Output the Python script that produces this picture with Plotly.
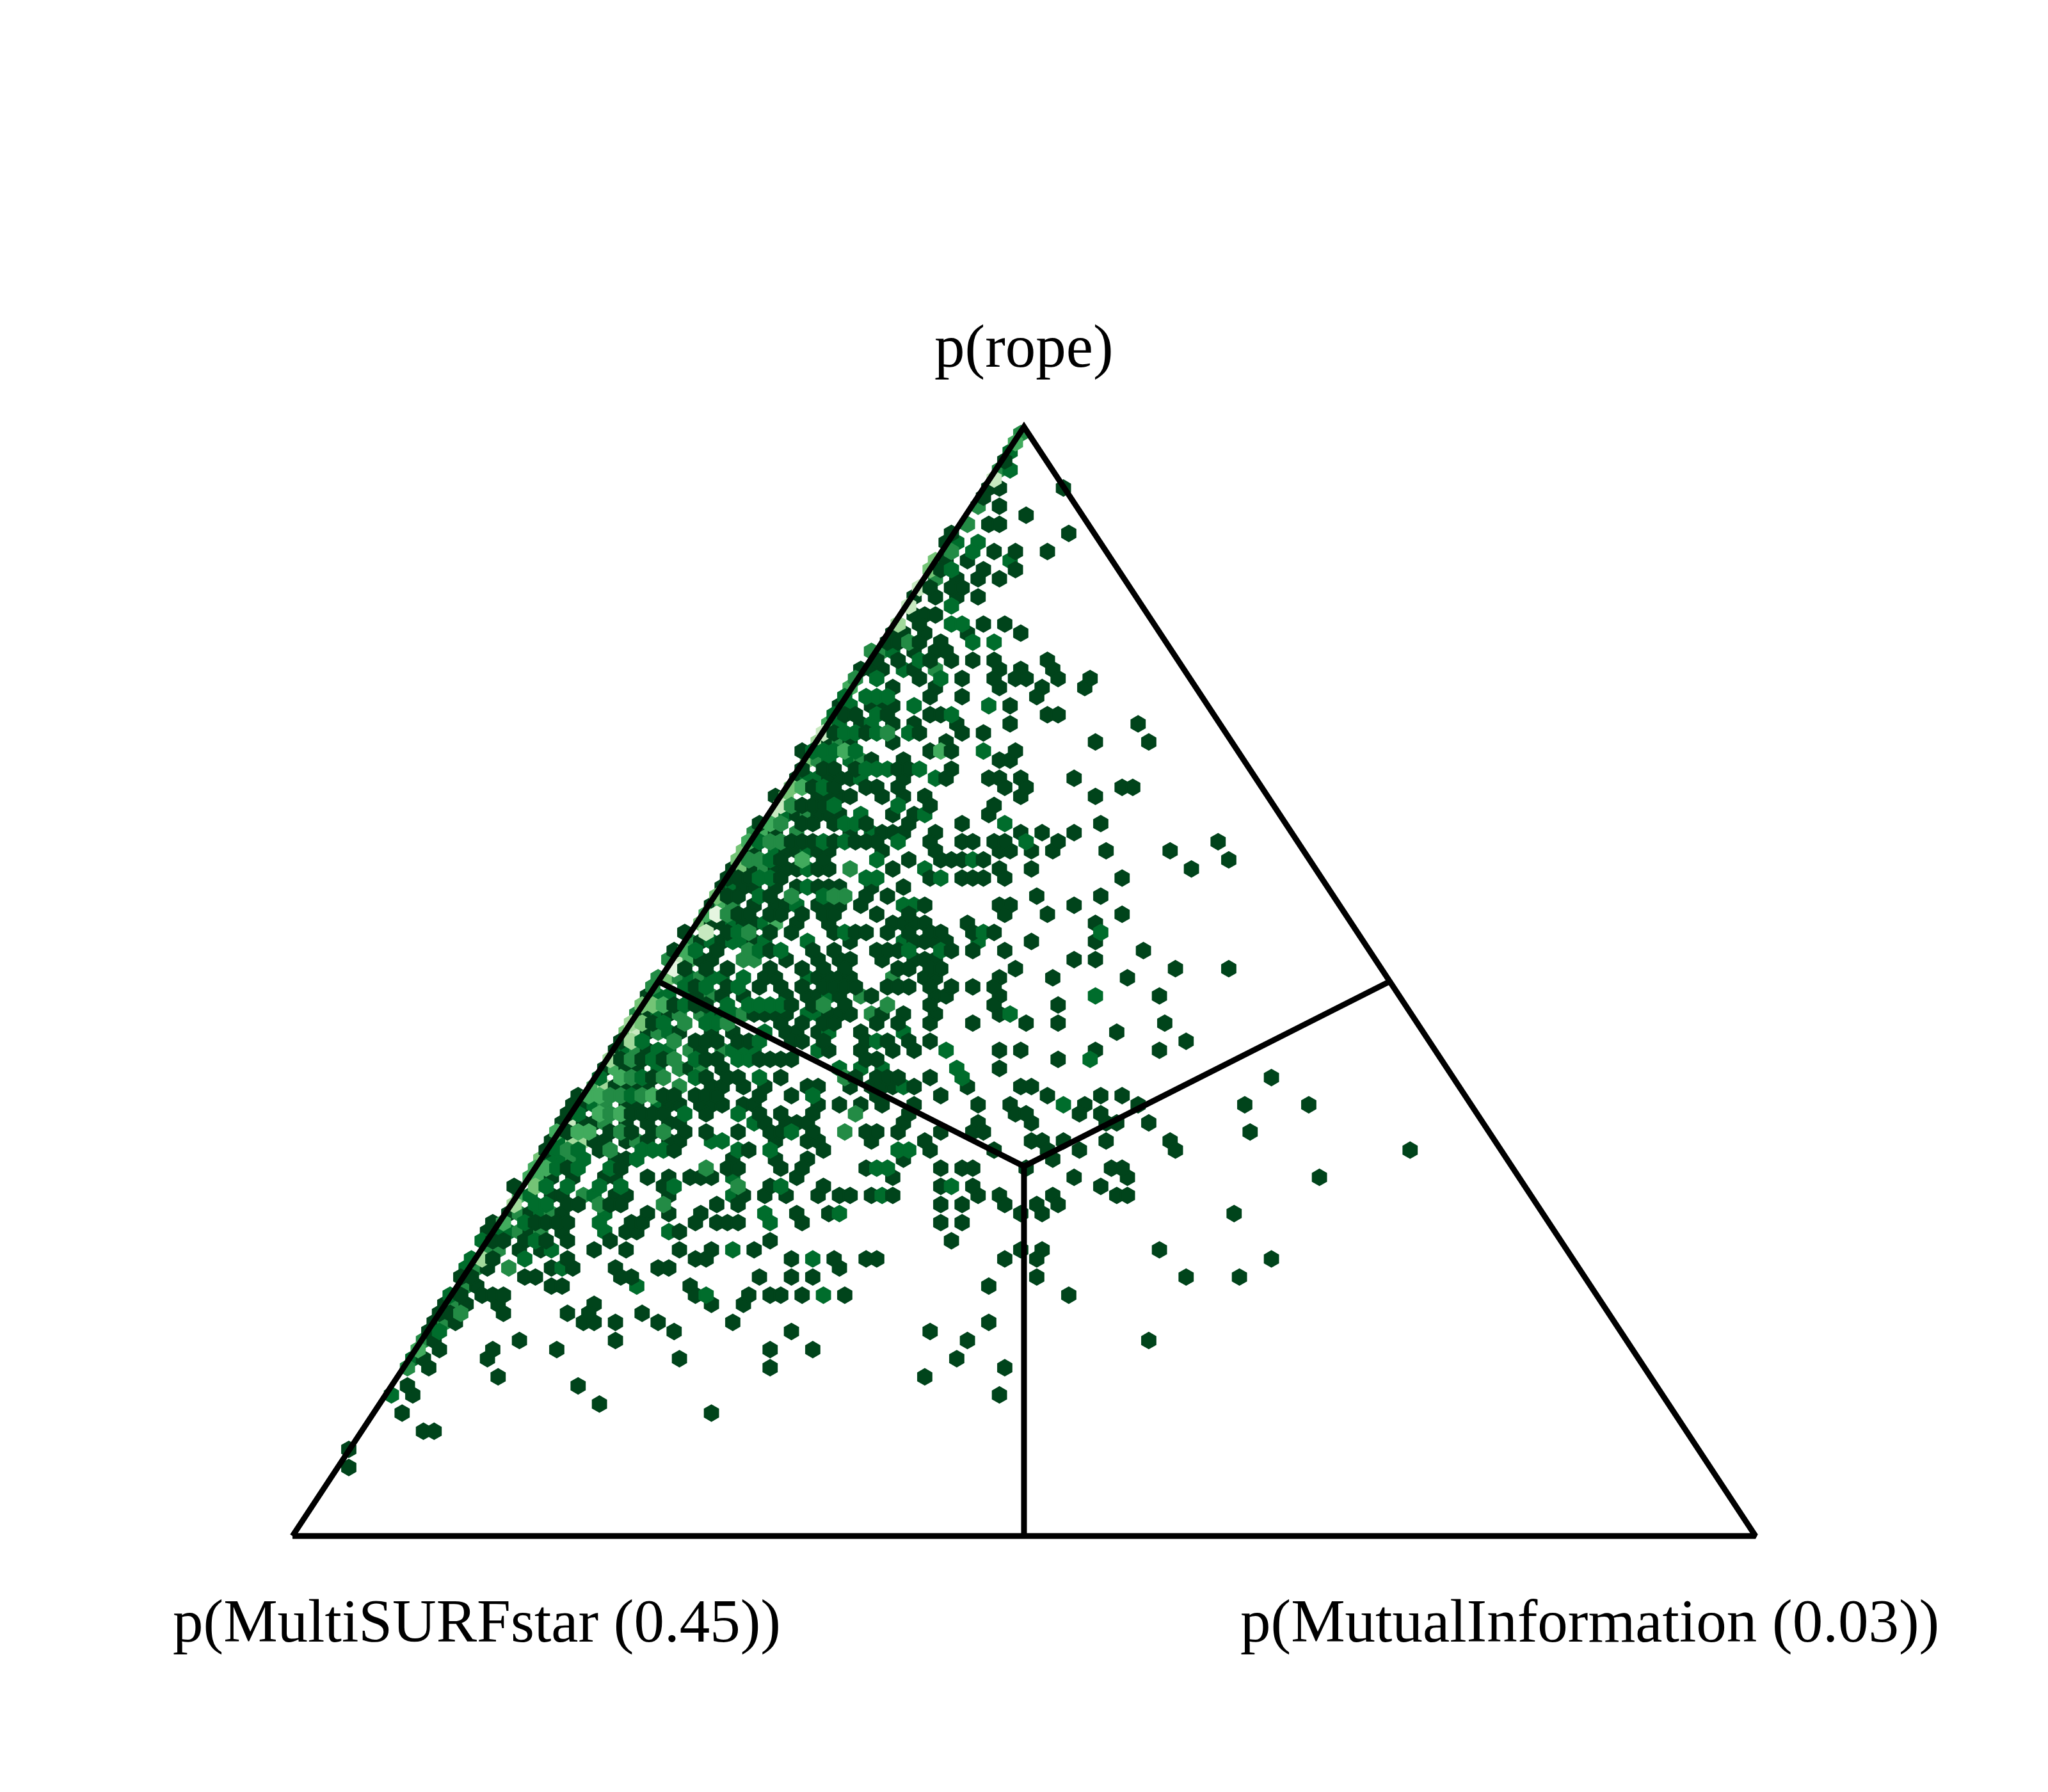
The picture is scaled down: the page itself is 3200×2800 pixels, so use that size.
import plotly.graph_objects as go

# Ternary frame: vertices, side midpoints and centre, in plane coordinates
frame_x = [0, 1, 0.5, 0]
frame_y = [0, 0, 1, 0]
divider_x = [0.25, 0.5, 0.75, None, 0.5, 0.5]
divider_y = [0.5, 1 / 3, 0.5, None, 1 / 3, 0]

corner_labels = ["p(rope)", "p(MultiSURFstar (0.45))", "p(MutualInformation (0.03))"]
label_x = [0.5, 0.1262, 0.8865]
label_y = [1.0, -0.0, -0.0]

# Hexbin lattice: bins with a count of one, keyed by row, listing columns
single_bins = {
    -29: [-4], -26: [-7, -5, 7], -25: [-8], -24: [-5], -23: [0], -22: [-7, -5], -21: [-14, 8],
    -20: [-15], -19: [-6, -2, 4], -18: [-15, -11], -17: [-16, -8, -2], -16: [-13, -9, -5],
    -15: [-18, -14, -12], -14: [-21, -17, -13, -9], -12: [-21, -19, -17], -11: [-20, -8, -4],
    -10: [-25, -23, -19, -11, -1], -9: [-26, -24, -20, -16], -8: [-21, -17, -15],
    -7: [-28, -24, -18, -14, -10, -6, 4], -6: [-31, -29, -27, -21, -5, -1, 5],
    -5: [-20, -12, -6, -2, 0, 6, 12], -4: [-25, -17, -5, 3, 11], -3: [-18, -12, 2],
    -2: [-35, -29, -27, -25, -3], -1: [-34, -32, -26, -18, -16, 4, 6],
    0: [-31, -25, -21, -13, -3, 21], 1: [-36, -30, -20, -12, -8],
    2: [-37, -33, -25, -15, 13, 23], 3: [-42, -18, -14, -2], 4: [-29, -23, -5, -3],
    5: [-42, -38, -36, -32, -24, -22, -14], 6: [-43, -37, -35, -33, -23, -15, -7, -5, -1, 9],
    7: [-40, -36, -30, -28, -24, -4, 0, 18, 20], 8: [-47, -39, -37, -35, -33, -27, -23, -19, -1, 13],
    9: [-42, -40, -38, -18, -6], 10: [-43, -39, -37, -35, -25, -21, -7],
    11: [-50, -42, -40, -36, -30, -22, -12, 14], 12: [-47, -33, -27, -25, -23, -17, -1, 3, 9],
    13: [-44, -42, -40, -36, -32, -30, -28, -18, -12, -10, -6, -4, 6, 36],
    14: [-51, -45, -43, -39, -37, -27, -17, -5, -3, 1, 5, 15, 27],
    15: [-46, -38, -22, -16, -14, -12, -8, 38], 16: [-55, -51, -47, -45, -43, -39, -37, -25, -5, 1, 31],
    17: [-56, -54, -52, -46, -18, -12, -10, -8, -4, 18],
    18: [-57, -53, -51, -47, -43, -39, -37, -35, -29, -23], 19: [-56, -54, -48, -30, -26, 2, 14],
    20: [-59, -51, -47, -45, -39, -37, -35, -31, -19, -5, -3, 9],
    21: [-54, -52, -48, -46, -42, -38, -36, -28, -22, -4, 4, 18],
    22: [-59, -57, -53, -51, -43, -37, -25, -23, -21, -19, -11, 13],
    23: [-64, -56, -48, -44, -36, -32, -30, -26, -22, -18, -16, -10, -6],
    24: [-61, -57, -51, -33, -21, -19, -17, -15, 1, 13],
    25: [-66, -58, -48, -40, -36, -28, -26, -24, -14, -10, -4, 22],
    26: [-61, -59, -45, -39, -35, -33, -27, -21, -19, -17, 9, 13],
    27: [-64, -60, -56, -48, -42, -38, -34, -24, -22, -18, -16, -2, 28, 38],
    28: [-49, -47, -39, -37, -35, -33, -19, -17, -5, 5, 19],
    29: [-62, -56, -50, -46, -42, -38, -36, -34, -32, -26, -24, -22, -18, -14, -10, -6],
    30: [-71, -63, -61, -57, -53, -45, -41, -39, -35, -29, -17, -15, -5, 25],
    31: [-66, -62, -60, -44, -40, -34, -18, -6, 6],
    32: [-71, -67, -57, -51, -49, -47, -45, -37, -35, -33, -27, -23, -17, -5],
    33: [-70, -46, -42, -38, -36, -28, -24, -18, -10, 0, 6, 26],
    34: [-71, -65, -59, -55, -45, -43, -39, -31, 17],
    35: [-76, -62, -60, -58, -54, -52, -44, -42, -38, -30, -26, -22, -18, 30],
    36: [-77, -71, -61, -37, -31, -25, -21, -5, -1, 13, 25],
    37: [-76, -72, -68, -60, -58, -50, -48, -46, -44, -30, -28, 6],
    38: [-79, -75, -73, -63, -57, -5],
    39: [-70, -60, -56, -54, -46, -32, -28, -26, -24, -18, 46],
    40: [-77, -75, -73, -71, -59, -57, -53, -49, -41, -39, -33, -29, -27, -25, -21, -11, -1, 1],
    41: [-84, -68, -66, -62, -60, -58, -50, -44, -28, -16, 4, 14, 18],
    42: [-85, -83, -75, -73, -67, -65, -61, -59, -57, -53, -51, -39, -35, -31, -27, -21, -9, -3, 11, 21, 41, 53],
    43: [-86, -74, -72, -70, -68, -60, -50, -46, -40, -22, -2, 0, 10, 14],
    44: [-87, -83, -81, -75, -71, -67, -65, -49, -45, -43, -41, -23, -9, 1, 15, 17, 23],
    45: [-86, -78, -74, -70, -64, -60, -54, -48, -46, -40, -30, -28, -24, -16, -10, -8, 42],
    46: [-89, -81, -79, -75, -71, -67, -65, -47, -41, -39, -29, -19, 1, 3, 7, 15, 27],
    47: [-90, -80, -66, -52, -38, -18, -6, 4, 10, 28, 72],
    48: [-77, -75, -55, -47, -41, -23, 5],
    49: [-86, -76, -56, -54, -46, -42, -30, -16, -12, -10, 0, 16, 18],
    50: [-89, -85, -79, -77, -71, -67, -63, -61, -59, -43, -25, 9, 19, 55],
    51: [-96, -68, -48, -38, -16, -10, 14],
    52: [-89, -87, -77, -75, -67, -53, -49, -45, -39, -35, -33, -29, -25, -9, -5, 5, 17, 19],
    53: [-86, -84, -78, -76, -58, -54, -16, -12, -4, 2, 6],
    54: [-97, -93, -87, -71, -67, -61, -43, -37, -1, 3, 39],
    55: [-100, -92, -90, -88, -86, -74, -72, -62, -58, -56, -54, -42, -16, -12],
    56: [-101, -93, -87, -75, -73, -65], 57: [-100, -98, -94, -90, -86, -78, -48, -14],
    58: [-95, -91, -81, -75, -65, -59, -51, -1, 3, 25],
    59: [-100, -86, -62, -60, -44, -36, -30, -28, -4, 2, 46],
    60: [-101, -89, -85, -77, -69, -67, -35],
    61: [-106, -104, -94, -92, -76, -74, -50, -44, -40, 2, 30, 40],
    62: [-103, -89, -87, -63, -7], 63: [-106, -102, -100, -98, -62, -52, -48, -46, -42, -34, 8],
    64: [-109, -105, -99, -81, -59, -53], 65: [-110, -108, -98, -86, -82, -72],
    66: [-111, -107, -83, -81, -77, -69, -55, -7], 67: [-112, -66, -44, -18],
    68: [-111, -95, -77, -11, 23], 69: [-110, -100, -88, -48, -40], 70: [-113, -101, -65, -13],
    71: [-112, -48, -4], 72: [-99, -19], 73: [-116, -84], 74: [-115, -5], 75: [-80],
    76: [-117, -59], 78: [-113, -111], 80: [-127], 82: [-127],
}

# Bins holding more than one point: row -> {column: count}
multi_bins = {
    -32: {-1: 3}, -31: {-2: 4}, -30: {-3: 2}, -28: {-5: 3, -3: 2}, -27: {-6: 7}, -24: {-9: 3},
    -22: {-11: 3}, -20: {-13: 2, -9: 2}, -19: {-14: 3, -10: 2}, -18: {-17: 5, -3: 2},
    -17: {-18: 5, -14: 2}, -16: {-17: 3}, -15: {-20: 7}, -13: {-22: 7, -14: 2},
    -11: {-24: 6, -14: 2, -12: 2}, -9: {-22: 3, -10: 2, -6: 2}, -8: {-29: 3, -27: 3, -25: 2},
    -7: {-20: 2}, -6: {-23: 2, -17: 3}, -5: {-32: 3, -28: 2, -16: 2}, -4: {-33: 4},
    -3: {-34: 2, -30: 2, -28: 2, -26: 2}, -2: {-33: 2, -21: 2, -7: 2}, -1: {-36: 2, -28: 2, -14: 2},
    0: {-37: 4, -35: 2, -29: 2}, 1: {-38: 7, -34: 2, -32: 2, -28: 2, -26: 3, -22: 2},
    2: {-39: 6, -35: 3}, 3: {-40: 2, -38: 2, -36: 2, -34: 4, -32: 2, -16: 4, -8: 2},
    4: {-41: 5, -39: 3, -37: 2, -33: 2, -31: 3}, 5: {-30: 2, -28: 2, -26: 2, -20: 2},
    6: {-41: 2, -39: 2, -31: 2, -17: 2}, 7: {-44: 5, -42: 4, -38: 2}, 8: {-45: 5},
    9: {-46: 7, -44: 3, -36: 2, -24: 2}, 10: {-47: 7, -45: 2, -41: 3, -31: 2, -19: 2},
    11: {-48: 4, -46: 3, -34: 2, -32: 2, -4: 2}, 12: {-51: 3, -49: 4, -43: 3, -29: 2},
    13: {-52: 4, -50: 2, -48: 3, -46: 3, -38: 2, -34: 2, -24: 2, 0: 2}, 14: {-53: 5, -47: 2, -41: 2},
    15: {-54: 5, -52: 3, -50: 3, -48: 2, -42: 4, -28: 2, -10: 2},
    16: {-53: 5, -49: 3, -41: 2, -33: 3, -19: 2}, 17: {-50: 2, -48: 2, -30: 2, -28: 2, -16: 2},
    18: {-55: 2, -41: 2}, 19: {-58: 5, -50: 2, -44: 3, -38: 2, -36: 3, -34: 3},
    20: {-57: 4, -55: 3, -43: 2, -23: 2, -21: 2}, 21: {-60: 4, -58: 8, -56: 3},
    22: {-61: 5, -55: 2, -49: 2, -47: 4}, 23: {-60: 7, -54: 2, -52: 3, -34: 2, -8: 2, 14: 2},
    24: {-63: 3, -59: 2, -55: 2, -53: 2, -49: 2, -41: 2, -23: 2, -9: 2},
    25: {-64: 4, -62: 2, -52: 3, -50: 2, -46: 2, -22: 2, -16: 2},
    26: {-67: 3, -65: 7, -63: 4, -53: 3, -51: 3}, 27: {-66: 8},
    28: {-69: 3, -67: 5, -65: 3, -63: 2, -61: 3, -59: 2, -57: 2, -53: 2, -41: 2, -25: 3},
    29: {-70: 3, -64: 2, -60: 2, -54: 2}, 30: {-69: 2, -67: 2, -59: 3, -37: 2, -31: 3, 13: 2},
    31: {-72: 5, -70: 5, -68: 4, -64: 2, -56: 2, -52: 2, -50: 2, -48: 2, -46: 2, -38: 3, -26: 3},
    32: {-73: 3, -69: 2, -65: 3, -61: 3, -59: 2, -55: 2, -53: 3, -41: 2, -39: 2, -29: 3, -3: 2},
    33: {-74: 6, -72: 5, -68: 2, -64: 3, -60: 2, -58: 2, -56: 3},
    34: {-75: 5, -73: 7, -69: 3, -67: 2, -49: 2, -37: 2, -23: 2},
    35: {-74: 6, -72: 2, -66: 3, -50: 2, -28: 2},
    36: {-75: 2, -73: 3, -69: 2, -67: 2, -63: 3, -57: 3, -55: 2, -53: 2, -51: 2, -39: 2, -15: 2},
    37: {-78: 6, -74: 3, -70: 2, -66: 3, -62: 2, -54: 2, -52: 2, 12: 2},
    38: {-77: 4, -69: 2, -65: 3, -61: 3, -35: 2, -31: 2, -27: 2, -13: 2},
    39: {-80: 2, -76: 4, -74: 3, -72: 2, -68: 3, -62: 2, -50: 2, -34: 3, -12: 2},
    40: {-81: 4, -79: 6, -65: 3, -23: 2},
    41: {-82: 4, -80: 4, -78: 3, -76: 3, -74: 2, -72: 3, -70: 4, -40: 2},
    42: {-81: 2, -79: 3, -69: 2, 7: 2},
    43: {-84: 2, -80: 4, -78: 3, -76: 4, -64: 2, -54: 2, -32: 3}, 44: {-85: 7, -79: 3, -51: 2},
    45: {-88: 4, -84: 4, -82: 4, -76: 3, -68: 3, -44: 2, -34: 3},
    46: {-87: 2, -85: 6, -83: 6, -73: 3, -59: 2, -57: 2},
    47: {-88: 2, -86: 3, -84: 2, -78: 3, -72: 2, -70: 2, -68: 2, -54: 2, -48: 2, -24: 2, -22: 2},
    48: {-91: 5, -89: 2, -87: 2, -85: 3, -83: 2, -73: 2},
    49: {-92: 4, -90: 4, -88: 2, -84: 2, -78: 2, -60: 3, -28: 2, -26: 2},
    50: {-93: 4, -91: 4, -55: 2},
    51: {-92: 5, -90: 2, -86: 2, -80: 2, -76: 2, -66: 2, -54: 3, -46: 2, -14: 2},
    52: {-95: 4, -93: 2, -83: 3, -81: 2, -55: 2, -27: 2},
    53: {-96: 6, -92: 2, -90: 2, -80: 3, -68: 3},
    54: {-95: 3, -91: 2, -89: 3, -79: 2, -49: 2, -35: 2}, 55: {-98: 4, -94: 2, -80: 2, -48: 2},
    56: {-99: 2, -97: 2, -95: 3, -91: 3, -79: 2, -67: 2}, 57: {-102: 2, -92: 2},
    58: {-101: 3, -99: 3, -89: 2, -55: 2}, 59: {-104: 2, -102: 6, -94: 2, -40: 2},
    60: {-105: 2, -103: 3, -97: 3, -87: 2}, 62: {-105: 3, -73: 2}, 63: {-108: 2, -60: 2, -38: 2},
    64: {-107: 3}, 65: {-106: 3}, 66: {-109: 3}, 67: {-110: 2}, 68: {-113: 3}, 69: {-114: 4},
    70: {-115: 2}, 71: {-116: 3}, 74: {-119: 2},
}

# Bin lattice in plane coordinates (columns are half steps, rows alternate)
col_origin, col_step = 0.50144, 0.0036453
row_origin, row_step = 0.73225, 0.0081766

cells = {}
for row, cols in single_bins.items():
    for col in cols:
        cells[(row, col)] = 1
for row, cols in multi_bins.items():
    for col, count in cols.items():
        cells[(row, col)] = count

# Draw even rows first and odd rows on top, as the two hexbin sub-lattices are drawn
ordered = sorted(cells, key=lambda k: (k[0] % 2, k[0], k[1]))
bin_x = [col_origin + k[1] * col_step for k in ordered]
bin_y = [row_origin - k[0] * row_step for k in ordered]
bin_count = [cells[k] for k in ordered]

greens = ["#00441b", "#006d2c", "#238b45", "#41ab5d", "#74c476",
          "#a1d99b", "#c7e9c0", "#e5f5e0", "#f7fcf5"]
scale = [[i / 8, c] for i, c in enumerate(greens)]

fig = go.Figure()
fig.add_trace(go.Scatter(
    x=bin_x, y=bin_y, mode="markers", hoverinfo="skip",
    marker=dict(symbol="hexagon", size=24, color=bin_count, colorscale=scale, cmin=1, cmax=9,
                line=dict(width=3, color=bin_count, colorscale=scale, cmin=1, cmax=9)),
))
for xs, ys in ((divider_x, divider_y), (frame_x, frame_y)):
    fig.add_trace(go.Scatter(x=xs, y=ys, mode="lines", hoverinfo="skip",
                             line=dict(color="black", width=9)))

offsets = [(0, 126), (0, -133), (0, -133)]
for text, lx, ly, (ox, oy) in zip(corner_labels, label_x, label_y, offsets):
    fig.add_annotation(x=lx, y=ly, text=text, showarrow=False, xanchor="center", yanchor="middle",
                       xshift=ox, yshift=oy,
                       font=dict(family="Liberation Serif", size=95, color="black"))

fig.update_layout(
    width=3200, height=2800, showlegend=False, margin=dict(l=0, r=0, t=0, b=0),
    paper_bgcolor="white", plot_bgcolor="white",
    xaxis=dict(visible=False, range=[-0.19991, 1.19991], fixedrange=True),
    yaxis=dict(visible=False, range=[-0.23081, 1.38488], fixedrange=True),
)
fig.write_html("out.html", config={"displayModeBar": False},
               post_script="document.body.style.margin='0';")
